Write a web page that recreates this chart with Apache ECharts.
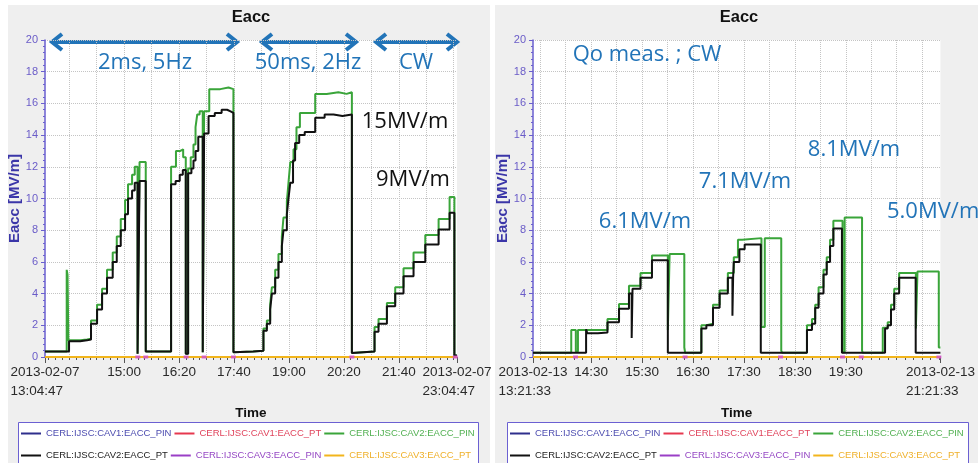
<!DOCTYPE html>
<html>
<head>
<meta charset="utf-8">
<script src="https://cdn.jsdelivr.net/npm/echarts@6/dist/echarts.min.js"></script>
<style>
  html, body { margin: 0; padding: 0; background: #fff; }
  #chart { width: 978px; height: 463px; }
</style>
</head>
<body>
<div id="chart"></div>
<script>
// Process variables shown in both panels (legend order)
const pvNames = [
  'CERL:IJSC:CAV1:EACC_PIN',
  'CERL:IJSC:CAV1:EACC_PT',
  'CERL:IJSC:CAV2:EACC_PIN',
  'CERL:IJSC:CAV2:EACC_PT',
  'CERL:IJSC:CAV3:EACC_PIN',
  'CERL:IJSC:CAV3:EACC_PT'
];
const pvLineColors = ['#2f2f8c', '#e6384f', '#3aa53a', '#111111', '#9a3fc6', '#f2b51c'];
const pvTextColors = ['#4d4db0', '#e0445c', '#52b052', '#222222', '#9548c4', '#efb02a'];

// ---- 2013-02-07 run (time in minutes after midnight, Eacc in MV/m) ----
const feb07Range = [784 + 47 / 60, 1384 + 47 / 60];
const feb07LabelTimes = [784 + 47 / 60, 900, 980, 1060, 1140, 1220, 1300, 1384 + 47 / 60];
const feb07GridTimes = [820, 860, 900, 940, 980, 1020, 1060, 1100, 1140, 1180, 1220, 1260, 1300, 1340, 1380];
// CAV2 input-coupler estimate, stepwise (value holds until next point)
const feb07Cav2Pin = [
  [784.8, 0.35], [816.4, 5.5], [817.6, 5.2], [818.8, 1.05], [836, 1.1], [846, 1.15],
  [851.8, 2.3], [860.6, 3.3], [867.9, 4.3], [875.1, 5.5], [883.4, 6.6], [889.3, 7.6],
  [895.1, 8.7], [901.4, 9.9], [905.7, 10.9], [911.6, 11.5], [915.5, 12.0], [919.6, 0.2],
  [922.5, 12.3], [931.5, 0.35],
  [968.4, 12.0], [975.5, 13.0], [982, 13.1], [986, 12.6], [989.8, 0.2], [993.2, 11.9],
  [997, 12.6], [1001, 13.4], [1004, 14.5], [1006.5, 15.3], [1010, 15.5], [1014.5, 0.3],
  [1016.5, 15.5], [1024, 16.9], [1040, 17.0], [1052, 16.9], [1059.2, 0.3], [1061, 0.35],
  [1088, 0.4],
  [1102.9, 1.8], [1107.9, 2.3], [1112.7, 3.3], [1115.2, 4.4], [1120.0, 5.5], [1124.8, 6.5],
  [1129.7, 7.6], [1132.1, 8.8], [1137.0, 9.8], [1139.4, 11.0], [1142, 12.3], [1146.7, 13.1],
  [1151, 14.5], [1156, 15.4], [1178.3, 16.6], [1195, 16.7], [1212, 16.6], [1224, 16.7],
  [1231.7, 0.25], [1233, 0.35],
  [1264.7, 1.9], [1270.5, 2.4], [1282.7, 3.4], [1294.8, 4.4], [1306.9, 5.6], [1321.5, 6.6],
  [1338.6, 7.7], [1358.0, 8.7], [1374.0, 10.1], [1381, 0.1], [1384.7, 0.1]
];
// CAV2 transmitted-power estimate, stepwise
const feb07Cav2Pt = [
  [784.8, 0.35], [819.8, 1.0], [836, 1.05], [846, 1.1],
  [851.8, 2.1], [860.6, 3.0], [867.9, 4.0], [875.1, 5.0], [883.4, 6.0], [889.3, 7.0],
  [895.1, 8.0], [901.4, 9.0], [905.7, 10.0], [911.6, 10.5], [915.5, 11.0], [919.6, 0.2],
  [922.5, 11.1], [931.5, 0.35],
  [968.4, 10.9], [975, 11.1], [981, 11.5], [985.5, 11.8], [989.8, 0.2], [993.2, 11.6],
  [998, 11.9], [1001, 12.4], [1004, 13.0], [1008, 13.9], [1014.5, 0.3], [1016.5, 14.1],
  [1023, 15.2], [1032, 15.4], [1042, 15.6], [1050, 15.5], [1055, 15.4], [1059.2, 0.3],
  [1061, 0.35], [1088, 0.4],
  [1102.9, 1.65], [1107.9, 2.1], [1112.7, 3.0], [1115.2, 4.0], [1120.0, 5.0], [1124.8, 6.0],
  [1129.7, 7.0], [1132.1, 8.0], [1137.0, 9.0], [1139.4, 10.0], [1142, 11.0], [1146, 12.4],
  [1149, 13.5], [1155, 14.0], [1163, 14.2], [1178.3, 15.1], [1192, 15.3], [1205, 15.2],
  [1218, 15.3], [1231.7, 0.25], [1233, 0.35],
  [1264.7, 1.6], [1270.5, 2.1], [1282.7, 3.2], [1294.8, 4.0], [1306.9, 5.1], [1321.5, 6.0],
  [1338.6, 7.1], [1358.0, 8.05], [1374.0, 9.1], [1381, 0.1], [1384.7, 0.1]
];
// CAV3 PIN samples logged at the trips
const feb07Cav3PinMarks = [919.9, 931.5, 990.3, 1016.5, 1059.2, 1231.7, 1382.3];

// ---- 2013-02-13 run (CW, Qo measurement) ----
const feb13Range = [801 + 33 / 60, 1281 + 33 / 60];
const feb13LabelTimes = [801 + 33 / 60, 870, 930, 990, 1050, 1110, 1170, 1281 + 33 / 60];
const feb13GridTimes = [810, 840, 870, 900, 930, 960, 990, 1020, 1050, 1080, 1110, 1140, 1170, 1200, 1230, 1260];
const feb13Cav2Pin = [
  [801.6, 0.27], [846.6, 1.7], [852, 0.35], [854.5, 1.7], [889.3, 2.4], [902.9, 3.35],
  [914.6, 4.5], [928.2, 5.3], [941.7, 6.4], [960.4, 1.7], [962.5, 6.5], [979.8, 0.6],
  [980.8, 0.27],
  [999.9, 2.0], [1005.8, 2.1], [1013.6, 3.3], [1021.4, 4.2], [1031.1, 5.3], [1038.1, 6.3],
  [1043, 7.4], [1048, 7.5], [1070.7, 1.9], [1074.6, 7.5], [1094.0, 0.4], [1095, 0.27],
  [1124.3, 2.0], [1130.2, 2.4], [1134.0, 3.3], [1138.0, 4.4], [1143.8, 5.5], [1147.6, 6.3],
  [1151.5, 7.4], [1155.4, 8.6], [1166.2, 0.3], [1168.7, 8.8], [1189.2, 0.4], [1190, 0.27],
  [1213.6, 1.85], [1219.4, 2.2], [1223.3, 3.3], [1227.1, 4.3], [1232.9, 5.3], [1252.6, 1.8],
  [1254.5, 5.4], [1279.6, 0.6], [1281.5, 0.6]
];
const feb13Cav2Pt = [
  [801.6, 0.27], [864.1, 1.75], [865.5, 1.5], [878, 1.55], [889.3, 2.2], [902.9, 3.05],
  [914.6, 4.0], [917.8, 1.2], [918.8, 4.3], [928.2, 5.0], [941.7, 6.1], [960.4, 0.27],
  [999.9, 1.8], [1005.8, 2.0], [1013.6, 3.1], [1021.4, 4.0], [1031.1, 5.0], [1036.5, 2.6],
  [1037.3, 5.0], [1038.1, 6.0], [1044.7, 6.8], [1050.9, 7.1], [1069.9, 0.27],
  [1124.3, 1.7], [1130.2, 2.1], [1134.0, 3.1], [1138.0, 4.0], [1143.8, 5.2], [1147.6, 6.0],
  [1151.5, 7.0], [1155.4, 8.1], [1165.5, 0.27],
  [1216.3, 1.8], [1219.4, 2.0], [1223.3, 3.0], [1227.1, 4.0], [1232.9, 5.0], [1252.4, 0.27],
  [1281.5, 0.27]
];
const feb13Cav3PinMarks = [851.6, 980.7, 1093.2, 1166.2, 1188.3, 1279.7];

// ---- layout ----
const panels = [
  { date: '2013-02-07', range: feb07Range, labels: feb07LabelTimes, grid: feb07GridTimes,
    pin: feb07Cav2Pin, pt: feb07Cav2Pt, marks: feb07Cav3PinMarks, left: 45, legendLeft: 21, boxLeft: 18, boxWidth: 460 },
  { date: '2013-02-13', range: feb13Range, labels: feb13LabelTimes, grid: feb13GridTimes,
    pin: feb13Cav2Pin, pt: feb13Cav2Pt, marks: feb13Cav3PinMarks, left: 533, legendLeft: 510, boxLeft: 507, boxWidth: 461 }
];
const PLOT_TOP = 40, PLOT_W = 412, PLOT_H = 317;
const axisBlue = '#6a5fcf';
const noteBlue = '#2274b8';

function pad2(n) { return String(n).padStart(2, '0'); }
function clockText(v, withSeconds) {
  const s = Math.round(v * 60);
  const h = Math.floor(s / 3600), m = Math.floor((s % 3600) / 60), sec = s % 60;
  return withSeconds ? pad2(h) + ':' + pad2(m) + ':' + pad2(sec) : pad2(h) + ':' + pad2(m);
}

const grids = [], xAxes = [], yAxes = [], series = [], legends = [], titles = [];

panels.forEach((p, i) => {
  grids.push({ left: p.left, top: PLOT_TOP, width: PLOT_W, height: PLOT_H,
    show: true, backgroundColor: '#ffffff', borderWidth: 0 });

  const minorTicks = [p.range[0]];
  for (let t = Math.ceil(p.range[0] / 10) * 10; t < p.range[1]; t += 10) minorTicks.push(t);
  minorTicks.push(p.range[1]);

  const base = { type: 'value', gridIndex: i, min: p.range[0], max: p.range[1], position: 'bottom' };
  const isEnd = v => Math.abs(v - p.range[0]) < 1e-6 || Math.abs(v - p.range[1]) < 1e-6;

  // main time axis: line, fine ticks, labels, name
  xAxes.push(Object.assign({}, base, {
    axisLine: { show: true, onZero: false, lineStyle: { color: '#555', width: 1 } },
    axisTick: { show: true, customValues: minorTicks, length: 3, lineStyle: { color: '#555' } },
    axisLabel: {
      customValues: p.labels,
      margin: 6,
      color: '#2a2a2a',
      fontFamily: 'Liberation Sans',
      fontSize: 13.5,
      lineHeight: 19,
      formatter: v => isEnd(v)
        ? '{d|' + p.date + '}\n{d|' + clockText(v, true) + '}'
        : clockText(v, false),
      rich: { d: { width: 69, align: 'left', lineHeight: 19, fontFamily: 'Liberation Sans', fontSize: 13.5, color: '#2a2a2a' } }
    },
    splitLine: { show: false },
    name: 'Time', nameLocation: 'middle', nameGap: 46,
    nameTextStyle: { fontFamily: 'Liberation Sans', fontWeight: 'bold', fontSize: 13.5, color: '#111' }
  }));
  // labelled positions get a longer tick
  xAxes.push(Object.assign({}, base, {
    axisLine: { show: false },
    axisTick: { show: true, customValues: p.labels, length: 6, lineStyle: { color: '#555' } },
    axisLabel: { show: false }, splitLine: { show: false }
  }));
  // dotted vertical grid
  xAxes.push(Object.assign({}, base, {
    axisLine: { show: false },
    axisTick: { show: false, customValues: p.grid },
    axisLabel: { show: false },
    splitLine: { show: true, lineStyle: { type: 'dotted', color: '#c4c4c4', width: 1 } }
  }));

  yAxes.push({
    type: 'value', gridIndex: i, min: 0, max: 20, interval: 2,
    axisLine: { show: true, lineStyle: { color: axisBlue, width: 1.5 } },
    axisTick: { show: true, length: 4, lineStyle: { color: axisBlue } },
    minorTick: { show: true, splitNumber: 5, length: 2, lineStyle: { color: axisBlue } },
    axisLabel: { margin: 7, color: '#6a5cc8', fontFamily: 'Liberation Sans', fontSize: 11 },
    splitLine: { show: true, lineStyle: { type: 'dotted', color: '#c4c4c4', width: 1 } },
    name: 'Eacc [MV/m]', nameLocation: 'middle', nameGap: 21,
    nameTextStyle: { fontFamily: 'Liberation Sans', fontWeight: 'bold', fontSize: 15, color: '#3b36a8' }
  });

  titles.push({ text: 'Eacc', left: p.left + PLOT_W / 2, top: 9, textAlign: 'center', padding: 0,
    textStyle: { fontFamily: 'Liberation Sans', fontWeight: 'bold', fontSize: 16.5, color: '#111' } });

  const xi = i * 3;
  const zeroLine = [[p.range[0], 0], [p.range[1], 0]];
  const lineSeries = (k, data, step, width) => ({
    name: pvNames[k], type: 'line', xAxisIndex: xi, yAxisIndex: i, data: data,
    step: step, symbol: 'none', silent: true, animation: false,
    lineStyle: { color: pvLineColors[k], width: width }, itemStyle: { color: pvLineColors[k] },
    emphasis: { disabled: true }
  });
  series.push(lineSeries(0, zeroLine, false, 2));
  series.push(lineSeries(1, zeroLine, false, 2));
  series.push(lineSeries(4, zeroLine, false, 2));
  series.push(lineSeries(2, p.pin, 'end', 2));
  series.push(lineSeries(3, p.pt, 'end', 2));
  series.push(lineSeries(5, zeroLine, false, 2));
  series.push({
    name: 'CAV3 PIN samples', type: 'scatter', xAxisIndex: xi, yAxisIndex: i, z: 5, clip: false,
    data: p.marks.map(t => [t, 0]), symbol: 'rect', symbolSize: [5, 3],
    itemStyle: { color: '#d24bd2' }, silent: true, animation: false
  });

  legends.push({
    left: p.legendLeft, top: 424, width: 458, padding: 0, itemGap: 3,
    icon: 'rect', itemWidth: 20, itemHeight: 2, selectedMode: false,
    textStyle: { fontFamily: 'Liberation Sans', fontSize: 9.5, lineHeight: 19 },
    data: pvNames.map((n, k) => ({ name: n, textStyle: { color: pvTextColors[k] } }))
  });
});

// page frame, legend boxes, annotations
function arrow(x1, x2, y) {
  return [
    { type: 'line', shape: { x1: x1 + 3, y1: y, x2: x2 - 3, y2: y }, style: { stroke: noteBlue, lineWidth: 4 } },
    { type: 'polyline', shape: { points: [[x1 + 12, y - 8], [x1 + 2, y], [x1 + 12, y + 8]] },
      style: { stroke: noteBlue, lineWidth: 4, fill: null, lineJoin: 'miter' } },
    { type: 'polyline', shape: { points: [[x2 - 12, y - 8], [x2 - 2, y], [x2 - 12, y + 8]] },
      style: { stroke: noteBlue, lineWidth: 4, fill: null, lineJoin: 'miter' } }
  ];
}
function note(text, x, y, color, align) {
  return { type: 'text', x: x, y: y, silent: true, z: 50,
    style: { text: text, fill: color, font: '22px "Open Sans"', align: align || 'center', verticalAlign: 'middle' } };
}

const graphics = [
  { type: 'rect', shape: { x: 0, y: 0, width: 978, height: 5 }, style: { fill: '#fff' }, silent: true },
  { type: 'rect', shape: { x: 0, y: 0, width: 8, height: 463 }, style: { fill: '#fff' }, silent: true },
  { type: 'rect', shape: { x: 490, y: 0, width: 5, height: 463 }, style: { fill: '#fff' }, silent: true }
];
panels.forEach(p => {
  graphics.push({ type: 'rect', shape: { x: p.boxLeft + 0.5, y: 422.5, width: p.boxWidth, height: 60 },
    style: { fill: '#fff', stroke: '#6b60d2', lineWidth: 1 }, silent: true });
});
graphics.push(...arrow(50, 239, 42), ...arrow(260, 358, 42), ...arrow(374, 459, 42));
graphics.push(
  note('2ms, 5Hz', 145, 63, noteBlue),
  note('50ms, 2Hz', 308, 63, noteBlue),
  note('CW', 416, 63, noteBlue),
  note('15MV/m', 405, 122, '#111'),
  note('9MV/m', 413, 180, '#111'),
  note('Qo meas. ; CW', 647, 55, noteBlue),
  note('8.1MV/m', 854, 150, noteBlue),
  note('7.1MV/m', 745, 182, noteBlue),
  note('6.1MV/m', 645, 222, noteBlue),
  note('5.0MV/m', 887, 212, noteBlue, 'left')
);

const chart = echarts.init(document.getElementById('chart'), null, { renderer: 'canvas', width: 978, height: 463 });
chart.setOption({
  animation: false,
  backgroundColor: '#efefef',
  title: titles,
  grid: grids,
  xAxis: xAxes,
  yAxis: yAxes,
  legend: legends,
  series: series,
  graphic: graphics
});
</script>
</body>
</html>
